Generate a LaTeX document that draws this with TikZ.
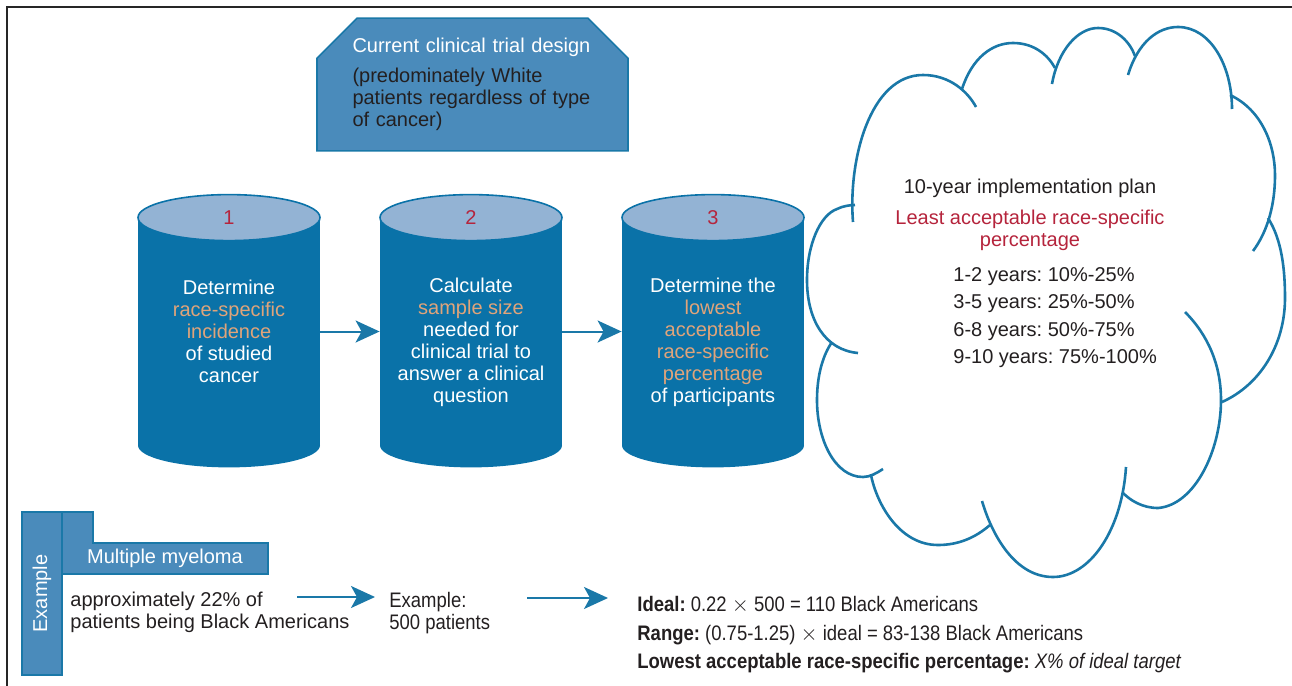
\documentclass[tikz,border=0pt]{standalone}
\usepackage{fontspec}
\setmainfont{Liberation Sans}
\newfontfamily\condfont[FakeStretch=0.88]{Liberation Sans}
\usetikzlibrary{arrows.meta,shapes.misc}
\definecolor{cylblue}{HTML}{0A72A8}
\definecolor{capblue}{HTML}{93B3D4}
\definecolor{boxblue}{HTML}{4A8BBB}
\definecolor{lineblue}{HTML}{1A78A8}
\definecolor{peach}{HTML}{E0A47A}
\definecolor{crimson}{HTML}{B5243C}
\definecolor{ink}{HTML}{231F20}
\newcommand{\hilite}[1]{\textcolor{peach}{#1}}
\frenchspacing

\begin{document}
\begin{tikzpicture}[x=0.5pt, y=-0.5pt, font=\fontsize{10}{11}\selectfont, text=ink,
  flow/.style={line width=1pt, lineblue, -{Stealth[length=12pt, width=11pt, inset=3pt]}},
  cylbody/.style={fill=cylblue, minimum width=91pt, minimum height=113.5pt, inner sep=0pt},
  cylcap/.style={fill=capblue, draw=cylblue, line width=0.8pt},
  cyltext/.style={text=white, align=center, inner sep=0pt},
  banner/.style={chamfered rectangle, chamfered rectangle corners={north west,north east},
    chamfered rectangle xsep=10pt, chamfered rectangle ysep=10pt, fill=boxblue, draw=lineblue,
    line width=0.8pt, minimum width=155.5pt, minimum height=60.5pt, text width=120pt,
    align=left, inner sep=0pt},
  cloudline/.style={lineblue, line width=1.3pt},
  tabbox/.style={fill=boxblue, draw=lineblue, line width=0.7pt},
  example/.style={font=\condfont\fontsize{10.5}{14.25}\selectfont}]
\useasboundingbox (0,0) rectangle (1292,686);
\draw[black!85, line width=0.8pt] (7,686) -- (7,7) -- (1292,7); % frame

% banner
\node[banner] (design) at (472.5,84.5) {\textcolor{white}{Current clinical trial design}\\[4pt]
  (predominately White\\patients regardless of type\\of cancer)};

% cylinders
\foreach \n/\x in {1/229, 2/471, 3/713} {
  \node[cylbody] (c\n) at (\x,331.5) {};
  \fill[cylblue] (c\n.south) ellipse [x radius=91, y radius=22];
  \draw[cylcap] (c\n.north) ellipse [x radius=91, y radius=23];
  \node[text=crimson] (n\n) at (c\n.north) {\n};
}
\node[cyltext] (t1) at (229,331) {Determine\\\hilite{race-specific}\\\hilite{incidence}\\of studied\\cancer};
\node[cyltext] (t2) at (471,342) {Calculate\\\hilite{sample size}\\needed for\\clinical trial to\\answer a clinical\\question};
\node[cyltext] (t3) at (713,342) {Determine the\\\hilite{lowest}\\\hilite{acceptable}\\\hilite{race-specific}\\\hilite{percentage}\\of participants};
\draw[flow] (c1.east) -- (c2.west);
\draw[flow] (c2.east) -- (c3.west);

% cloud
\draw[cloudline] (853,222) .. controls (848,160) and (870,75) .. (923,75) .. controls (950,75) and (968,92) .. (976,107);
\draw[cloudline] (962,89) .. controls (972,58) and (992,43) .. (1013,43) .. controls (1034,43) and (1048,55) .. (1055,68);
\draw[cloudline] (1052,84) .. controls (1058,50) and (1078,28) .. (1098,28) .. controls (1117,28) and (1130,42) .. (1135,56);
\draw[cloudline] (1128,75) .. controls (1138,42) and (1158,27) .. (1178,27) .. controls (1210,27) and (1232,65) .. (1232,109);
\draw[cloudline] (1230,95) .. controls (1262,110) and (1275,145) .. (1275,175) .. controls (1275,210) and (1265,235) .. (1253,251);
\draw[cloudline] (1268,218) .. controls (1282,240) and (1285,270) .. (1285,298) .. controls (1285,345) and (1260,385) .. (1222,402);
\draw[cloudline] (1185,312) .. controls (1208,335) and (1221,365) .. (1221,400) .. controls (1221,450) and (1195,505) .. (1158,508) .. controls (1142,508) and (1130,500) .. (1123,493);
\draw[cloudline] (1126,467) .. controls (1122,530) and (1090,577) .. (1053,577) .. controls (1015,577) and (992,535) .. (982,501);
\draw[cloudline] (990,525) .. controls (975,538) and (958,545) .. (938,545) .. controls (900,545) and (877,505) .. (871,475);
\draw[cloudline] (883,469) .. controls (877,473) and (870,477) .. (863,477) .. controls (835,477) and (817,440) .. (817,400) .. controls (817,375) and (823,355) .. (832,342);
\draw[cloudline] (858,353) .. controls (825,350) and (807,320) .. (807,280) .. controls (807,245) and (820,215) .. (837,209) .. controls (843,206) and (850,205) .. (855,205);
\node (plan) at (1030,188) {10-year implementation plan};
\node[text=crimson, align=center] (least) at (1030,230) {Least acceptable race-specific\\percentage};
\node[anchor=north west, align=left, inner sep=0pt, font=\fontsize{10}{13.75}\selectfont] (years) at (953,267)
  {1-2 years: 10\%-25\%\\3-5 years: 25\%-50\%\\6-8 years: 50\%-75\%\\9-10 years: 75\%-100\%};

% example row
\node[tabbox, rotate=90, minimum width=81.5pt, minimum height=20pt, inner sep=0pt, text=white] (exbar) at (42,593.5) {Example};
\draw[tabbox] (62,512) -- (93,512) -- (93,543) -- (268,543) -- (268,574) -- (62,574) -- cycle; % tab
\node[text=white] (myeloma) at (165,558.5) {Multiple myeloma};
\node[anchor=north west, align=left, inner sep=0pt] (share) at (70,592) {approximately 22\% of\\patients being Black Americans};
\node[anchor=north west, align=left, inner sep=0pt, font=\condfont\fontsize{10.5}{11}\selectfont] (patients) at (389,592) {Example:\\500 patients};
\node[anchor=north west, align=left, inner sep=0pt, example] (calc) at (637,596)
  {\textbf{Ideal:} 0.22 $\times$ 500 = 110 Black Americans\\
   \textbf{Range:} (0.75-1.25) $\times$ ideal = 83-138 Black Americans\\
   \textbf{Lowest acceptable race-specific percentage:} \textit{X\% of ideal target}};
\coordinate (a1s) at (297,597);
\coordinate (a1e) at (375,597);
\coordinate (a2s) at (527,598);
\coordinate (a2e) at (608,598);
\draw[flow] (a1s) -- (a1e);
\draw[flow] (a2s) -- (a2e);
\end{tikzpicture}
\end{document}
